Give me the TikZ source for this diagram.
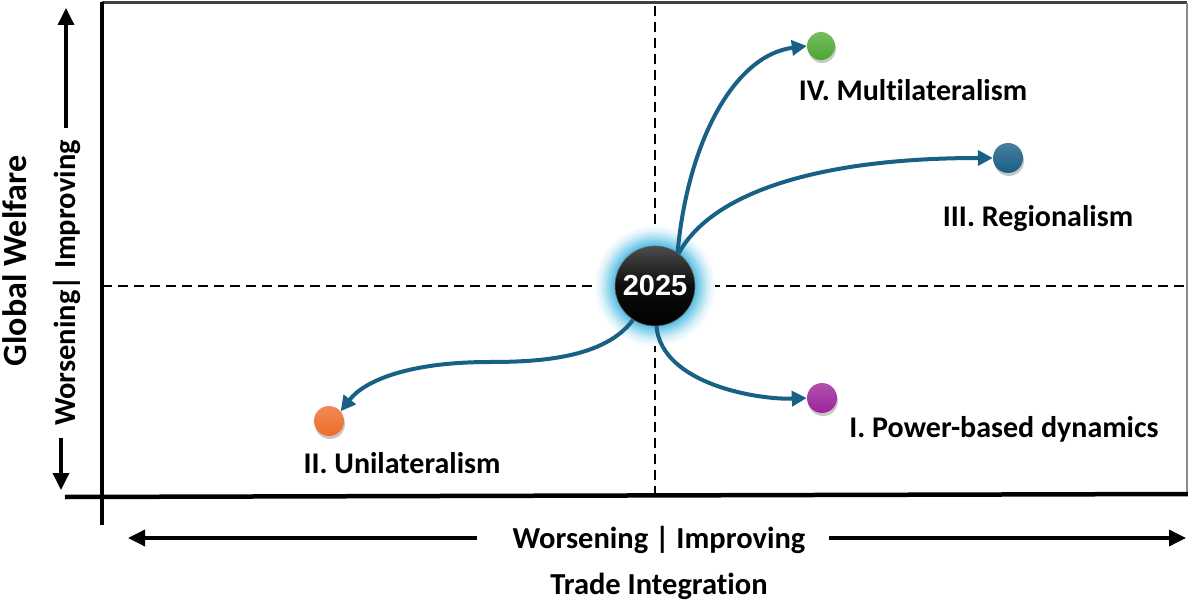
\documentclass[tikz,border=0pt]{standalone}
\usepackage{fontspec}
\setmainfont{Carlito}[Ligatures=NoCommon]
\newfontfamily\numfont{Liberation Sans}
\usetikzlibrary{arrows.meta,shadows}

\definecolor{flowc}{RGB}{24,96,132}
\definecolor{glowc}{RGB}{70,185,225}
\definecolor{greenc}{RGB}{76,166,48}
\definecolor{bluec}{RGB}{26,94,134}
\definecolor{magc}{RGB}{158,36,154}
\definecolor{orangec}{RGB}{238,108,42}

\tikzset{
  label/.style={font=\bfseries\fontsize{30}{34}\selectfont, anchor=base, inner sep=0pt},
  axislabel/.style={font=\bfseries\fontsize{30.5}{34}\selectfont, anchor=base, inner sep=0pt},
  dot/.style={circle, minimum size=30pt, inner sep=0pt,
    drop shadow={shadow xshift=1pt, shadow yshift=-3pt, opacity=.22, fill=black}},
  flow/.style={draw=flowc, line width=4pt, -{Triangle[length=15pt,width=15pt]}},
  axisarrow/.style={draw=black, line width=3.5pt, -{Triangle[length=17pt,width=16pt]}},
  quadline/.style={draw=black, line width=2.5pt, dash pattern=on 10pt off 6pt},
}

\begin{document}
\begin{tikzpicture}[x=1pt,y=-1pt]
\useasboundingbox (0,0) rectangle (1188,601);

% quadrant dividers
\coordinate (vt) at (655,6);
\coordinate (vb) at (655,495);
\coordinate (hl) at (102,286);
\coordinate (hr) at (1187,286);
\draw[quadline] (vt) -- (vb);
\draw[quadline] (hl) -- (hr);

% frame and axes
\coordinate (tl) at (102,3);
\coordinate (tr) at (1187,3);
\coordinate (br) at (1187,494);
\coordinate (yt) at (102,2);
\coordinate (yb) at (102,525);
\coordinate (xl) at (65,497);
\coordinate (xr) at (1188,494);
\draw[black!75, line width=3pt] (tl) -- (tr);
\draw[black!45, line width=2pt] (tr) -- (br);
\draw[black, line width=3.5pt] (yt) -- (yb);
\draw[black, line width=4.5pt] (xl) -- (xr);

% glow behind the current-state marker
\coordinate (ctr) at (655,286);
\foreach \r/\k in {60/5,58/10,56/16,54/24,52/33,50/43,48/54,46/65,44/76,42/86}
  \fill[glowc!\k!white] (ctr) circle[radius=\r];

\node[circle, minimum size=80pt, inner sep=0pt, draw=black!60, line width=0.6pt,
      top color=black!70, bottom color=black, middle color=black!95,
      text=white, font=\numfont\bfseries\fontsize{29}{32}\selectfont]
      (c) at (ctr) {2025};

% scenario markers
\node[dot, minimum size=28pt, top color=greenc!75!white, bottom color=greenc] (g) at (821,46) {};
\node[dot, top color=bluec!80!white, bottom color=bluec] (b) at (1008,158) {};
\node[dot, top color=magc!80!white, bottom color=magc] (m) at (822,398) {};
\node[dot, top color=orangec!80!white, bottom color=orangec] (o) at (329,421) {};

% scenario paths
\draw[flow] (c.56) .. controls (688,140) and (735,55) .. (g.west);
\draw[flow] (c.54) .. controls (712,192) and (820,158) .. (b.west);
\draw[flow] (c.-88) .. controls (662,385) and (760,400) .. (m.west);
\coordinate (mid) at (490,362);
\draw[flow] (c.-123) .. controls (605,358) and (540,362) .. (mid)
            .. controls (410,362) and (365,380) .. (o.40);

% scenario labels
\node[label] (l4) at (913,101) {IV. Multilateralism};
\node[label] (l3) at (1038,227) {III. Regionalism};
\node[label] (l1) at (1004,437) {I. Power-based dynamics};
\node[label] (l2) at (402,473) {II. Unilateralism};

% horizontal axis
\node[axislabel] (xlab) at (659,548) {Worsening | Improving};
\node[axislabel] (xtitle) at (659,594) {Trade Integration};
\coordinate (xa1) at (477,538);
\coordinate (xa2) at (128,538);
\coordinate (xa3) at (829,538);
\coordinate (xa4) at (1186,538);
\draw[axisarrow] (xa1) -- (xa2);
\draw[axisarrow] (xa3) -- (xa4);

% vertical axis
\node[axislabel, rotate=90] (ylab) at (75,283) {Worsening| Improving};
\node[axislabel, rotate=90, font=\bfseries\fontsize{34}{38}\selectfont] (ytitle) at (26,261) {Global Welfare};
\coordinate (ya1) at (66,128);
\coordinate (ya2) at (66,8);
\coordinate (ya3) at (61,438);
\coordinate (ya4) at (61,490);
\draw[axisarrow] (ya1) -- (ya2);
\draw[axisarrow] (ya3) -- (ya4);
\end{tikzpicture}
\end{document}
